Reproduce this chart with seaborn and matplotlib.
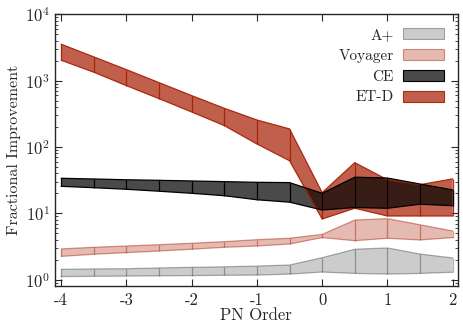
import numpy as np
import matplotlib
matplotlib.use('Agg')
import matplotlib.pyplot as plt
import seaborn as sns
from matplotlib.patches import Patch

# PN orders and bands (lower / upper)
pn_order = [-4, -3.5, -3, -2.5, -2, -1.5, -1, -0.5, 0, 0.5, 1, 1.5, 2]

aplus_lo = [1.11, 1.12, 1.13, 1.14, 1.15, 1.16, 1.17, 1.21, 1.30, 1.24, 1.21, 1.24, 1.29]
aplus_hi = [1.43, 1.45, 1.46, 1.50, 1.53, 1.56, 1.60, 1.66, 2.14, 2.87, 3.00, 2.43, 2.12]

voyager_lo = [2.24, 2.41, 2.55, 2.70, 2.87, 3.07, 3.21, 3.44, 4.3, 3.86, 4.2, 3.96, 4.3]
voyager_hi = [2.90, 3.07, 3.21, 3.36, 3.53, 3.73, 4.00, 4.20, 4.8, 7.9, 8.3, 6.7, 5.4]

ce_lo = [25.5, 24.3, 23.0, 21.5, 20.0, 18.4, 16.0, 14.7, 11.2, 12.2, 11.9, 13.7, 13.0]
ce_hi = [33.7, 32.9, 32.0, 31.4, 30.7, 30.0, 29.3, 29.0, 20.0, 35.0, 34.0, 27.6, 22.5]

etd_lo = [2030, 1340, 840, 535, 337, 210, 111, 62, 8.2, 11.9, 9.1, 9.1, 9.1]
etd_hi = [3540, 2280, 1465, 933, 594, 383, 255, 187, 20.5, 58, 32, 27, 33]

labels = ['A+', 'Voyager', 'CE', 'ET-D']

red = (0.65, 0.11, 0.0)
styles = {
    'A+': dict(face=(0, 0, 0, 0.2), edge=(0, 0, 0, 0.3)),
    'Voyager': dict(face=red + (0.3,), edge=red + (0.45,)),
    'ET-D': dict(face=red + (0.7,), edge=red + (0.9,)),
    'CE': dict(face=(0, 0, 0, 0.71), edge=(0, 0, 0, 1.0)),
}
bands = {
    'A+': (aplus_lo, aplus_hi),
    'Voyager': (voyager_lo, voyager_hi),
    'ET-D': (etd_lo, etd_hi),
    'CE': (ce_lo, ce_hi),
}

sns.set_style('ticks')
plt.rcParams['font.family'] = 'serif'
plt.rcParams['font.serif'] = ['cmr10', 'DejaVu Serif']
plt.rcParams['mathtext.fontset'] = 'cm'
plt.rcParams['axes.formatter.use_mathtext'] = True
plt.rcParams['axes.unicode_minus'] = False

fig = plt.figure(figsize=(4.63, 3.25), dpi=100)
ax = fig.add_axes([0.118, 0.121, 0.871, 0.835])

for name in ['A+', 'Voyager', 'ET-D', 'CE']:
    lo, hi = bands[name]
    st = styles[name]
    ax.fill_between(pn_order, lo, hi, facecolor=st['face'], edgecolor='none', lw=0)
    sns.lineplot(x=pn_order, y=lo, ax=ax, color=st['edge'][:3], alpha=st['edge'][3], lw=0.9)
    sns.lineplot(x=pn_order, y=hi, ax=ax, color=st['edge'][:3], alpha=st['edge'][3], lw=0.9)
    ax.vlines(pn_order, lo, hi, colors=[st['edge']], lw=0.9)

ax.set_yscale('log')
ax.set_xlim(-4.1, 2.08)
ax.set_ylim(0.81, 1e4)
ax.set_xticks([-4, -3, -2, -1, 0, 1, 2])
ax.set_xticklabels(['-4', '-3', '-2', '-1', '0', '1', '2'])
ax.tick_params(which='both', direction='in', top=True, right=True, labelsize=12)
ax.tick_params(which='major', length=5)
ax.tick_params(which='minor', length=2.5)
ax.tick_params(axis='x', pad=5)
ax.set_xlabel('PN Order', fontsize=12, labelpad=0)
ax.set_ylabel('Fractional Improvement', fontsize=11.5, labelpad=3)
for s in ax.spines.values():
    s.set_linewidth(1.0)

handles = [Patch(facecolor=styles[n]['face'], edgecolor=styles[n]['edge'], lw=0.8) for n in labels]
ax.legend(handles, labels, loc='upper right', markerfirst=False, frameon=False,
          fontsize=11, handlelength=2.7, handleheight=0.75, labelspacing=0.45,
          handletextpad=0.6, borderaxespad=0.5)

fig.savefig('out.png', dpi=100)
